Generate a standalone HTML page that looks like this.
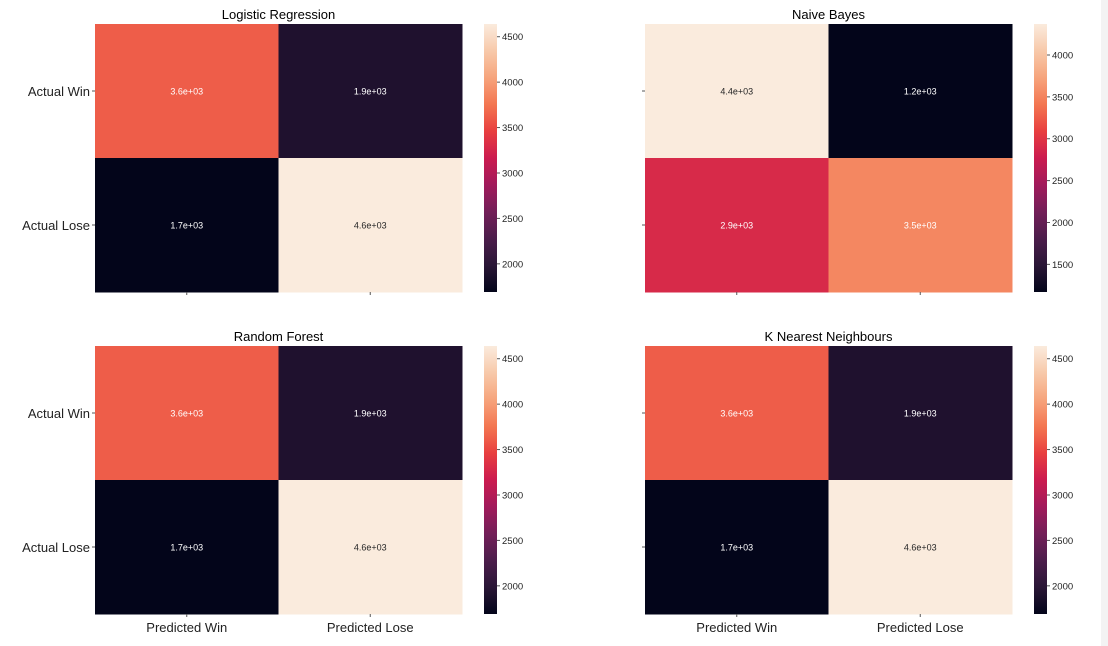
<!DOCTYPE html>
<html><head><meta charset="utf-8"><style>
html,body{margin:0;padding:0;background:#fff;width:1108px;height:646px;overflow:hidden}
svg{display:block;font-family:"Liberation Sans","DejaVu Sans",sans-serif}
</style></head><body>
<svg id="fig" width="1108" height="646" viewBox="0 0 1108 646">
<rect x="1101" y="0" width="7" height="646" fill="#f3f3f3"/>
</svg>
<script>
const titles = ["Logistic Regression","Naive Bayes","Random Forest","K Nearest Neighbours"];
const rowLabels = ["Actual Win","Actual Lose"];
const colLabels = ["Predicted Win","Predicted Lose"];
const lrValues = [3620, 1900, 1690, 4640];
const nbValues = [4370, 1170, 2900, 3530];
const rfValues = [3620, 1900, 1690, 4640];
const knnValues = [3620, 1900, 1690, 4640];
const lrTicks = [2000,2500,3000,3500,4000,4500];
const nbTicks = [1500,2000,2500,3000,3500,4000];
const rfTicks = [2000,2500,3000,3500,4000,4500];
const knnTicks = [2000,2500,3000,3500,4000,4500];

const allValues=[lrValues,nbValues,rfValues,knnValues];
const allTicks=[lrTicks,nbTicks,rfTicks,knnTicks];
const rocket=["#03051a","#2a1636","#4c1d4b","#731f58","#a11a5b","#cb1b4f","#e83f3f","#f37651","#f6a47c","#f7c9aa","#faebdd"];
function hex(h){return [1,3,5].map(i=>parseInt(h.substr(i,2),16));}
function cmap(t){t=Math.max(0,Math.min(1,t));const p=t*10,i=Math.min(9,Math.floor(p)),f=p-i;
const a=hex(rocket[i]),b=hex(rocket[i+1]);return "rgb("+a.map((v,k)=>Math.round(v+(b[k]-v)*f)).join(",")+")";}
const NS="http://www.w3.org/2000/svg";
const svg=document.getElementById("fig");
function mk(tag,attrs,parent){const e=document.createElementNS(NS,tag);for(const k in attrs)e.setAttribute(k,attrs[k]);(parent||svg).appendChild(e);return e;}
const panels=[{x:95,y:24},{x:645,y:24},{x:95,y:346},{x:645,y:346}];
const W=367,H=268;
panels.forEach((p,pi)=>{
  const vals=allValues[pi];const ticks=allTicks[pi];
  const vmin=Math.min(...vals),vmax=Math.max(...vals);
  const g=mk("g",{});
  
  
  const t=mk("text",{x:p.x+W/2,y:p.y-5,"text-anchor":"middle","font-size":13,fill:"#000"},g);
  t.textContent=titles[pi];
  
  
  const cw=W/2,ch=H/2;
  vals.forEach((v,i)=>{
    const r=Math.floor(i/2),c=i%2;const tn=(v-vmin)/(vmax-vmin);
    const rc=mk("rect",{x:p.x+c*cw,y:p.y+r*ch,width:cw+0.5,height:ch+0.5,fill:cmap(tn)},g);
    
    
    const tx=mk("text",{x:p.x+c*cw+cw/2,y:p.y+r*ch+ch/2+3.5,"text-anchor":"middle","font-size":9,fill:tn>0.85?"#262626":"#ffffff"},g);
    tx.textContent=(v/1000).toFixed(1)+"e+03";
    
    
  });
  const isLeft=pi%2===0,isBottom=pi>=2;
  rowLabels.forEach((l,r)=>{
    const y=p.y+r*ch+ch/2;
    mk("line",{x1:p.x-3,x2:p.x,y1:y,y2:y,stroke:"#555","stroke-width":1},g);
    if(isLeft){const tl=mk("text",{x:p.x-5,y:y+5,"text-anchor":"end","font-size":13,fill:"#222"},g);
      tl.textContent=l;
      
      }
  });
  colLabels.forEach((l,c)=>{
    const x=p.x+c*cw+cw/2;
    mk("line",{x1:x,x2:x,y1:p.y+H,y2:p.y+H+3,stroke:"#555","stroke-width":1},g);
    if(isBottom){const tl=mk("text",{x:x,y:p.y+H+18,"text-anchor":"middle","font-size":13,fill:"#222"},g);
      tl.textContent=l;
      
      }
  });
  const cbx=p.x+W+22,cbw=13;
  const defs=mk("defs",{},g);
  const gr=mk("linearGradient",{id:"cb"+pi,x1:0,y1:1,x2:0,y2:0},defs);
  for(let k=0;k<=20;k++)mk("stop",{offset:k/20,"stop-color":cmap(k/20)},gr);
  const cb=mk("rect",{x:cbx,y:p.y,width:cbw,height:H,fill:"url(#cb"+pi+")"},g);
  
  
  ticks.forEach(tv=>{
    const y=p.y+H-(tv-vmin)/(vmax-vmin)*H;
    mk("line",{x1:cbx+cbw,x2:cbx+cbw+3,y1:y,y2:y,stroke:"#555","stroke-width":1},g);
    const tl=mk("text",{x:cbx+cbw+5,y:y+3.5,"font-size":9.5,fill:"#222"},g);
    tl.textContent=tv;
    
    
  });
});
</script>
</body></html>
